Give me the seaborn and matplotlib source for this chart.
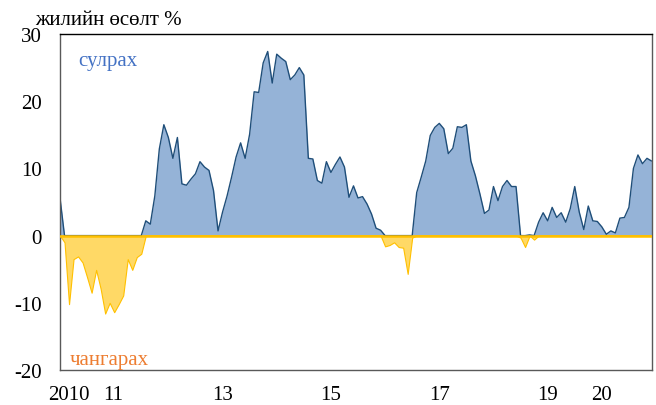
import numpy as np
import pandas as pd
import matplotlib
matplotlib.use("Agg")
import matplotlib.pyplot as plt
import seaborn as sns

# Monthly year-on-year growth, Jan 2010 - Dec 2020 (%)
growth = [
    5.6, -1.0, -10.2, -3.5, -3.1, -4.0, -6.2, -8.5, -5.1, -7.9, -11.6, -10.0,
    -11.4, -10.2, -8.9, -3.5, -5.1, -3.2, -2.7, 2.2, 1.7, 5.9, 12.9, 16.5,
    14.6, 11.5, 14.6, 7.7, 7.5, 8.4, 9.2, 11.0, 10.2, 9.7, 6.7, 0.7,
    3.5, 5.9, 8.7, 11.7, 13.8, 11.5, 15.1, 21.4, 21.3, 25.7, 27.4, 22.7,
    27.0, 26.4, 25.9, 23.2, 23.9, 25.0, 23.9, 11.5, 11.4, 8.2, 7.8, 11.0,
    9.4, 10.6, 11.7, 10.2, 5.7, 7.4, 5.6, 5.8, 4.7, 3.2, 1.1, 0.8,
    -1.6, -1.4, -1.0, -1.7, -1.8, -5.7, -0.3, 6.4, 8.7, 11.1, 14.9, 16.1,
    16.7, 15.9, 12.2, 13.0, 16.2, 16.1, 16.5, 11.1, 8.9, 6.2, 3.3, 3.8,
    7.3, 5.2, 7.3, 8.2, 7.3, 7.3, -0.3, -1.7, 0.1, -0.6, 2.0, 3.4,
    2.2, 4.2, 2.7, 3.4, 2.0, 4.0, 7.3, 3.5, 0.9, 4.4, 2.2, 2.1,
    1.3, 0.2, 0.7, 0.4, 2.6, 2.7, 4.2, 10.0, 12.0, 10.7, 11.5, 11.1,
]
year_labels = ["2010", "11", "13", "15", "17", "19", "20"]
year_ticks = [2, 11.7, 36, 60, 84, 108, 120]
y_ticks = [30, 20, 10, 0, -10, -20]

df = pd.DataFrame({"month": np.arange(len(growth)), "growth": growth})
df["pos"] = df["growth"].clip(lower=0)   # сулрах
df["neg"] = df["growth"].clip(upper=0)   # чангарах

sns.set_theme(style="white")
plt.rcParams["font.family"] = ["Liberation Serif", "DejaVu Serif"]

fig = plt.figure(figsize=(6.56, 4.06), dpi=100)
ax = fig.add_axes([60 / 656, 1 - 371 / 406, 591.5 / 656, 336 / 406])

ax.fill_between(df["month"], df["pos"], 0, color="#95B3D7", lw=0)
ax.fill_between(df["month"], df["neg"], 0, facecolor="#FFD966",
                edgecolor="#FFC000", lw=0.8)
sns.lineplot(data=df, x="month", y="pos", ax=ax, color="#1F4E79", lw=1.0)
ax.axhline(0, color="#FFC000", lw=1.8, zorder=3)

ax.set_xlim(0, len(growth) - 1)
ax.set_ylim(-20, 30)
ax.set_yticks(y_ticks)
ax.set_yticklabels([str(t) for t in y_ticks])
ax.set_xticks(year_ticks)
ax.set_xticklabels(year_labels)
ax.tick_params(axis="both", length=0, labelsize=15, colors="black")
ax.tick_params(axis="y", pad=13)
ax.tick_params(axis="x", pad=11)
ax.set_xlabel("")
ax.set_ylabel("")

for side in ["left", "right", "bottom"]:
    ax.spines[side].set_color("#595959")
    ax.spines[side].set_linewidth(1.0)
ax.spines["top"].set_color("black")
ax.spines["top"].set_linewidth(1.0)

fig.text(35 / 656, 1 - 25 / 406, "жилийн өсөлт %", fontsize=15,
         color="black", va="baseline", ha="left")
fig.text(78 / 656, 1 - 66 / 406, "сулрах", fontsize=15,
         color="#4472C4", va="baseline", ha="left")
fig.text(70 / 656, 1 - 365.5 / 406, "чангарах", fontsize=15,
         color="#ED7D31", va="baseline", ha="left")

fig.savefig("out.png", dpi=100)
